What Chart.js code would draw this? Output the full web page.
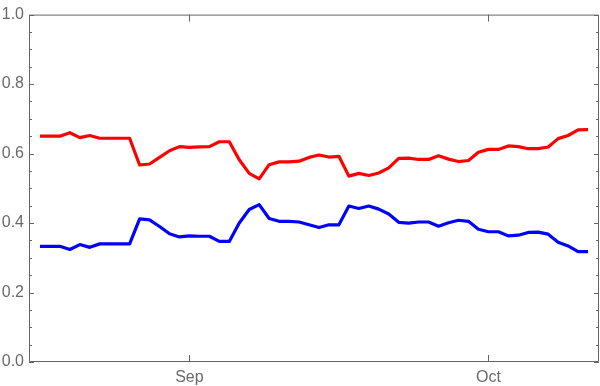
<!DOCTYPE html>
<html>
<head>
<meta charset="utf-8">
<script src="https://cdn.jsdelivr.net/npm/chart.js@4/dist/chart.umd.min.js"></script>
<style>
  html, body { margin: 0; padding: 0; background: #fff; }
  #chart { display: block; }
</style>
</head>
<body>
<canvas id="chart" width="600" height="386"></canvas>
<script>
// one point per day, starting here
const START_DATE = "2021-08-17";

const RED_SERIES = [
  0.650, 0.650, 0.650, 0.660, 0.646, 0.652, 0.644, 0.644, 0.644, 0.644,
  0.567, 0.570, 0.589, 0.608, 0.620, 0.618, 0.619, 0.620, 0.634, 0.634,
  0.582, 0.543, 0.527, 0.568, 0.576, 0.576, 0.578, 0.589, 0.596, 0.590,
  0.592, 0.535, 0.543, 0.537, 0.544, 0.559, 0.586, 0.587, 0.583, 0.583,
  0.594, 0.584, 0.577, 0.580, 0.604, 0.612, 0.612, 0.622, 0.620, 0.614,
  0.614, 0.619, 0.643, 0.652, 0.668, 0.669,
];

const BLUE_SERIES = [
  0.333, 0.333, 0.333, 0.324, 0.338, 0.330, 0.340, 0.340, 0.340, 0.340,
  0.412, 0.409, 0.390, 0.369, 0.360, 0.363, 0.362, 0.362, 0.347, 0.347,
  0.400, 0.439, 0.453, 0.413, 0.405, 0.405, 0.403, 0.395, 0.387, 0.395,
  0.395, 0.449, 0.442, 0.449, 0.440, 0.426, 0.402, 0.400, 0.403, 0.403,
  0.391, 0.401, 0.408, 0.405, 0.382, 0.375, 0.375, 0.363, 0.365, 0.373,
  0.374, 0.368, 0.345, 0.334, 0.318, 0.318,
];

const X_TICK_DATES = ["2021-09-01", "2021-10-01"];
const X_TICK_LABELS = ["Sep", "Oct"];

const FRAME_COLOR = "#666666";
const LABEL_COLOR = "#6a6a6a";
const LABEL_FONT = { family: "'Liberation Sans', Arial, sans-serif", size: 16 };

function toDay(iso) {
  return Date.parse(iso + "T00:00:00Z") / 86400000;
}

function toPoints(values) {
  const start = toDay(START_DATE);
  return values.map((y, i) => ({ x: start + i, y }));
}

const firstDay = toDay(START_DATE);
const lastDay = firstDay + RED_SERIES.length - 1;

const frameTicks = {
  id: "frameTicks",
  afterDraw(chart) {
    const { ctx, chartArea } = chart;
    const { left, right, top, bottom } = chartArea;
    const yScale = chart.scales.y;
    const xScale = chart.scales.x;

    ctx.save();
    ctx.strokeStyle = FRAME_COLOR;
    ctx.lineWidth = 1;
    ctx.beginPath();
    ctx.rect(left + 0.5, top + 0.5, right - left - 1, bottom - top - 1);

    for (let k = 0; k <= 20; k++) {
      const py = Math.round(yScale.getPixelForValue(k * 0.05)) + 0.5;
      const len = k % 4 === 0 ? 5 : 3;
      ctx.moveTo(left, py);
      ctx.lineTo(left + len, py);
      ctx.moveTo(right, py);
      ctx.lineTo(right - len, py);
    }

    X_TICK_DATES.forEach((d) => {
      const px = Math.round(xScale.getPixelForValue(toDay(d))) + 0.5;
      ctx.moveTo(px, bottom);
      ctx.lineTo(px, bottom - 7);
      ctx.moveTo(px, top);
      ctx.lineTo(px, top + 7);
    });
    ctx.stroke();
    ctx.restore();
  },
};

new Chart(document.getElementById("chart"), {
  type: "line",
  data: {
    datasets: [
      {
        data: toPoints(RED_SERIES),
        borderColor: "#ff0000",
        borderWidth: 3.2,
        pointRadius: 0,
        tension: 0,
        borderJoinStyle: "round",
      },
      {
        data: toPoints(BLUE_SERIES),
        borderColor: "#0000ff",
        borderWidth: 3.2,
        pointRadius: 0,
        tension: 0,
        borderJoinStyle: "round",
      },
    ],
  },
  options: {
    responsive: false,
    animation: false,
    layout: { padding: { top: 10, right: 1, left: 0, bottom: 0 } },
    plugins: {
      legend: { display: false },
      tooltip: { enabled: false },
    },
    scales: {
      x: {
        type: "linear",
        min: firstDay - 1.1,
        max: lastDay + 1.1,
        grid: { display: false, drawTicks: false },
        border: { display: false },
        afterBuildTicks(scale) {
          scale.ticks = X_TICK_DATES.map((d) => ({ value: toDay(d) }));
        },
        afterFit(scale) {
          scale.height = 24;
        },
        ticks: {
          autoSkip: false,
          maxRotation: 0,
          padding: 6,
          color: LABEL_COLOR,
          font: LABEL_FONT,
          callback(value, index) {
            return X_TICK_LABELS[index];
          },
        },
      },
      y: {
        min: 0,
        max: 1,
        grid: { display: false, drawTicks: false },
        border: { display: false },
        afterFit(scale) {
          scale.width = 29;
        },
        ticks: {
          stepSize: 0.2,
          padding: 5,
          color: LABEL_COLOR,
          font: LABEL_FONT,
          callback(value) {
            return value.toFixed(1);
          },
        },
      },
    },
  },
  plugins: [frameTicks],
});
</script>
</body>
</html>
